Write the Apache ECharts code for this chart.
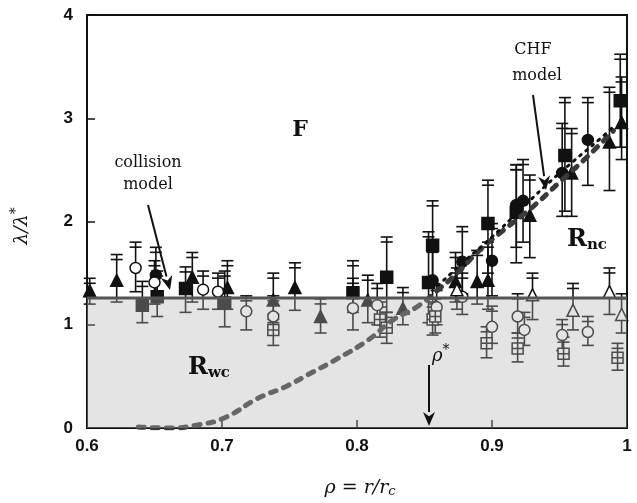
<!DOCTYPE html>
<html>
<head>
<meta charset="utf-8">
<script src="https://cdn.jsdelivr.net/npm/echarts@6/dist/echarts.min.js"></script>
<style>
html,body{margin:0;padding:0;background:#fff;}
#chart{width:637px;height:503px;}
</style>
</head>
<body>
<div id="chart"></div>
<script>
/*----------data----------*/
// each point: [rho, lambda, errLow, errHigh]
var filledSquares=[
	[0.641,1.19,1.02,1.42],[0.652,1.27,1.08,1.52],[0.673,1.35,1.12,1.56],[0.702,1.21,0.98,1.52],
	[0.797,1.31,1.12,1.62],[0.822,1.46,1.12,1.85],[0.853,1.41,1.02,1.9],[0.856,1.77,1.4,2.2],
	[0.897,1.98,1.5,2.4],[0.918,2.09,1.6,2.55],[0.954,2.64,2.1,3.2],[0.995,3.17,2.72,3.62]
];
var filledCircles=[
	[0.651,1.48,1.25,1.75],[0.856,1.43,1.1,1.75],[0.878,1.61,1.3,1.95],[0.9,1.62,1.28,1.98],
	[0.918,2.16,1.75,2.55],[0.923,2.2,1.8,2.6],[0.952,2.47,2.05,2.95],[0.971,2.79,2.35,3.2]
];
var filledTriangles=[
	[0.602,1.33,1.2,1.45],[0.622,1.43,1.22,1.68],[0.678,1.46,1.22,1.7],[0.704,1.36,1.15,1.62],
	[0.738,1.24,1.02,1.5],[0.754,1.36,1.14,1.6],[0.773,1.08,0.92,1.25],[0.808,1.24,1.02,1.48],
	[0.834,1.16,1.0,1.36],[0.873,1.42,1.22,1.7],[0.889,1.42,1.2,1.72],[0.897,1.43,1.15,1.8],
	[0.928,2.06,1.65,2.45],[0.959,2.47,2.05,2.9],[0.987,2.77,2.3,3.3],[0.996,2.96,2.6,3.4]
];
var openCircles=[
	[0.636,1.55,1.32,1.8],[0.65,1.41,1.2,1.62],[0.686,1.34,1.15,1.52],[0.697,1.32,1.15,1.5],
	[0.718,1.13,0.95,1.28],[0.738,1.08,0.92,1.28],[0.797,1.16,0.95,1.45],[0.815,1.19,1.0,1.4],
	[0.859,1.17,1.0,1.38],[0.878,1.27,1.1,1.5],[0.9,0.98,0.82,1.18],[0.919,1.08,0.92,1.3],
	[0.924,0.95,0.8,1.12],[0.952,0.9,0.75,1.05],[0.971,0.93,0.8,1.08]
];
var openTriangles=[
	[0.874,1.34,1.15,1.55],[0.93,1.29,1.05,1.5],[0.96,1.14,0.95,1.4],[0.987,1.32,1.1,1.55],[0.996,1.1,0.92,1.3]
];
var crossSquares=[
	[0.738,0.95,0.8,1.1],[0.817,1.05,0.88,1.22],[0.822,0.97,0.82,1.12],[0.856,1.05,0.9,1.22],
	[0.858,1.08,0.92,1.25],[0.896,0.82,0.68,0.98],[0.919,0.77,0.64,0.92],[0.953,0.72,0.6,0.88],[0.993,0.68,0.56,0.82]
];
// model curves
var collisionRho=[0.638,0.66,0.682,0.702,0.727,0.747,0.767,0.784,0.808,0.827,0.844,0.862,0.875,0.889,0.907,0.93,0.95,0.97,0.99];
var collisionLam=[0.01,0.0,0.03,0.1,0.29,0.4,0.54,0.66,0.85,1.05,1.17,1.36,1.51,1.7,1.9,2.14,2.38,2.62,2.88];
var chfRho=[0.86,0.88,0.9,0.92,0.94,0.96,0.98,0.99];
var chfLam=[1.38,1.62,1.85,2.1,2.35,2.58,2.8,2.92];
var shadeTop=1.26;	//lower region boundary
/*----------ready----------*/
chart();
/*----------function------*/
function pts(arr){return arr.map(function(d){return [d[0],d[1]];});}
function zip(a,b){return a.map(function(v,i){return [v,b[i]];});}
function errSeries(arr){
	return {
		type:"custom",
		z:1,
		silent:true,
		data:arr,
		renderItem:function(params,api){
			var lo=api.coord([api.value(0),api.value(2)]);
			var hi=api.coord([api.value(0),api.value(3)]);
			var st={stroke:"#111",lineWidth:1.6};
			return {type:"group",children:[
				{type:"line",shape:{x1:lo[0],y1:lo[1],x2:hi[0],y2:hi[1]},style:st},
				{type:"line",shape:{x1:lo[0]-6,y1:lo[1],x2:lo[0]+6,y2:lo[1]},style:st},
				{type:"line",shape:{x1:hi[0]-6,y1:hi[1],x2:hi[0]+6,y2:hi[1]},style:st},
				{type:"line",shape:{x1:hi[0]-6,y1:hi[1]+5,x2:hi[0]+6,y2:hi[1]+5},style:st}
			]};
		}
	};
}
function arrow(x1,y1,x2,y2){
	var a=Math.atan2(y2-y1,x2-x1),L=14,W=6;
	var bx=x2-L*Math.cos(a),by=y2-L*Math.sin(a);
	var nx=-Math.sin(a)*W,ny=Math.cos(a)*W;
	return [
		{type:"line",shape:{x1:x1,y1:y1,x2:bx,y2:by},style:{stroke:"#111",lineWidth:2},z:20},
		{type:"polygon",shape:{points:[[x2,y2],[bx+nx,by+ny],[bx+L*0.3*Math.cos(a),by+L*0.3*Math.sin(a)],[bx-nx,by-ny]]},style:{fill:"#111"},z:20}
	];
}
function chart(){
	var myChart=echarts.init(document.getElementById("chart"));
	var serif="'DejaVu Serif','Liberation Serif',serif";
	var sans="'Liberation Sans',Arial,sans-serif";
	function sc(data,symbol,size,fill){
		return {
			type:"scatter",
			data:pts(data),
			symbol:symbol,
			symbolSize:size,
			silent:true,
			z:3,
			itemStyle:{color:fill,borderColor:"#111",borderWidth:1.5,opacity:1}
		};
	}
	var option={
		animation:false,
		grid:{left:87,right:10,top:15,bottom:75,show:true,borderColor:"#111",borderWidth:2,backgroundColor:"transparent"},
		xAxis:{
			type:"value",min:0.6,max:1,interval:0.1,
			axisLine:{lineStyle:{color:"#111",width:2}},
			axisTick:{inside:true,length:8,lineStyle:{color:"#111",width:1.5}},
			splitLine:{show:false},
			axisLabel:{color:"#111",fontFamily:sans,fontWeight:"bold",fontSize:17,margin:10,
				formatter:function(v){return Math.abs(v-1)<1e-9?"1":v.toFixed(1);}}
		},
		yAxis:{
			type:"value",min:0,max:4,interval:1,
			axisLine:{show:true,lineStyle:{color:"#111",width:2}},
			axisTick:{show:true,inside:true,length:8,lineStyle:{color:"#111",width:1.5}},
			splitLine:{show:false},
			axisLabel:{color:"#111",fontFamily:sans,fontWeight:"bold",fontSize:17,margin:14}
		},
		series:[
			errSeries(filledSquares),errSeries(filledCircles),errSeries(filledTriangles),
			errSeries(openCircles),errSeries(openTriangles),errSeries(crossSquares),
			sc(filledSquares,"rect",12,"#111"),
			sc(filledCircles,"circle",11,"#111"),
			sc(filledTriangles,"triangle",12,"#111"),
			sc(openCircles,"circle",11,"#fff"),
			sc(openTriangles,"triangle",12,"#fff"),
			sc(crossSquares,"path://M0,0H10V10H0Z M5,0V10 M0,5H10",11,"#fff"),
			{
				type:"line",data:zip(collisionRho,collisionLam),smooth:true,symbol:"none",silent:true,z:4,
				lineStyle:{color:"#3a3a3a",width:5,type:[6,8],cap:"round"}
			},
			{
				type:"line",data:zip(chfRho,chfLam),smooth:true,symbol:"none",silent:true,z:4,
				lineStyle:{color:"#111",width:3,type:[2,6],cap:"round"}
			},
			{
				type:"custom",z:10,silent:true,
				data:[[0.6,0,1.0,shadeTop]],
				renderItem:function(params,api){
					var p0=api.coord([api.value(0),api.value(3)]);
					var p1=api.coord([api.value(2),api.value(1)]);
					return {type:"group",children:[
						{type:"rect",shape:{x:p0[0],y:p0[1],width:p1[0]-p0[0],height:p1[1]-p0[1]},style:{fill:"rgba(180,180,180,0.36)"}},
						{type:"line",shape:{x1:p0[0],y1:p0[1],x2:p1[0],y2:p0[1]},style:{stroke:"#555",lineWidth:3}}
					]};
				}
			}
		],
		graphic:[
			{type:"text",x:300,y:130,style:{text:"F",font:"bold 22px "+serif,fill:"#111",align:"center",verticalAlign:"middle"},z:20},
			{type:"text",x:148,y:163,style:{text:"collision",font:"16px "+serif,fill:"#111",align:"center",verticalAlign:"middle"},z:20},
			{type:"text",x:148,y:185,style:{text:"model",font:"16px "+serif,fill:"#111",align:"center",verticalAlign:"middle"},z:20},
			{type:"text",x:533,y:50,style:{text:"CHF",font:"16px "+serif,fill:"#111",align:"center",verticalAlign:"middle"},z:20},
			{type:"text",x:537,y:76,style:{text:"model",font:"16px "+serif,fill:"#111",align:"center",verticalAlign:"middle"},z:20},
			{type:"text",x:567,y:240,style:{text:"{r|R}{s|nc}",verticalAlign:"middle",
				rich:{r:{font:"bold 24px "+serif,fill:"#111"},s:{font:"bold 15px "+serif,fill:"#111",padding:[10,0,0,0]}}},z:20},
			{type:"text",x:188,y:368,style:{text:"{r|R}{s|wc}",verticalAlign:"middle",
				rich:{r:{font:"bold 24px "+serif,fill:"#111"},s:{font:"bold 15px "+serif,fill:"#111",padding:[10,0,0,0]}}},z:20},
			{type:"text",x:432,y:356,style:{text:"{r|ρ}{s|*}",verticalAlign:"middle",
				rich:{r:{font:"italic 18px "+serif,fill:"#111"},s:{font:"14px "+serif,fill:"#111",padding:[0,0,12,0]}}},z:20},
			{type:"text",x:22,y:226,rotation:Math.PI/2,style:{text:"{r|λ/λ}{s|*}",align:"center",verticalAlign:"middle",
				rich:{r:{font:"italic 19px "+serif,fill:"#111"},s:{font:"14px "+serif,fill:"#111",padding:[0,0,12,0]}}},z:20},
			{type:"text",x:360,y:488,style:{text:"{r|ρ = r/r}{s|c}",align:"center",verticalAlign:"middle",
				rich:{r:{font:"italic 19px "+serif,fill:"#111"},s:{font:"italic 13px "+serif,fill:"#111",padding:[8,0,0,0]}}},z:20}
		].concat(arrow(148,205,170,290),arrow(533,95,546,190),arrow(429,365,429,426))
	};
	myChart.setOption(option);
}
</script>
</body>
</html>
